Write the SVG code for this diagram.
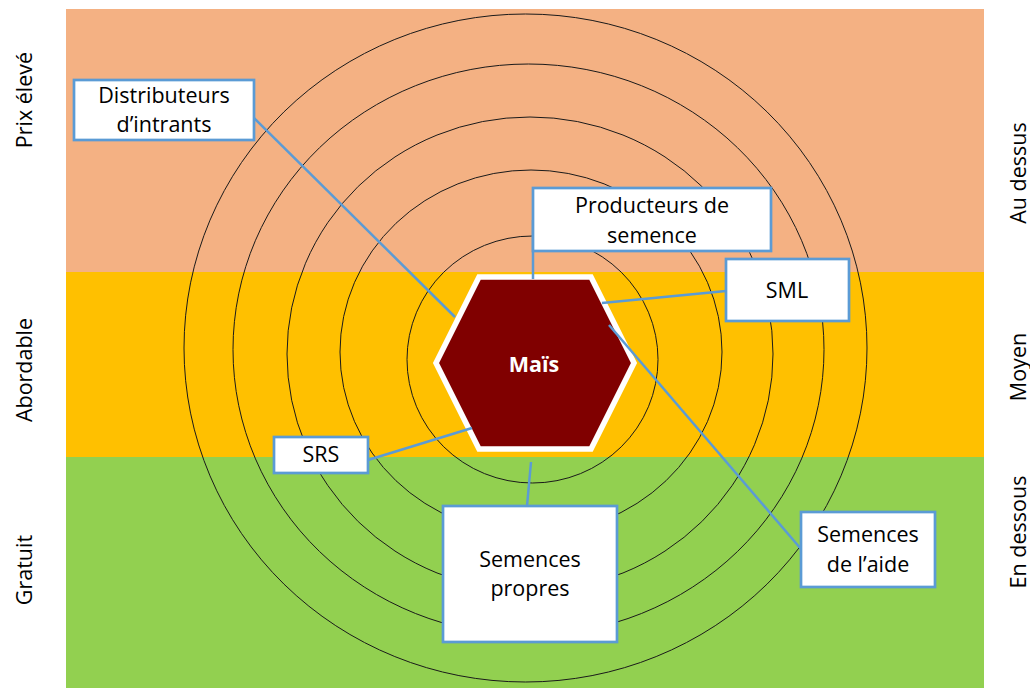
<svg xmlns="http://www.w3.org/2000/svg" width="1030" height="688" viewBox="0 0 1030 688">
<style>
  .ring { fill: none; stroke: #1a1a1a; stroke-width: 1; }
  .box { fill: #ffffff; stroke: #5B9BD5; stroke-width: 2.7; }
  .conn { stroke: #5B9BD5; stroke-width: 2.5; fill: none; }
  .lbl { font-family: "Open Sans", "Liberation Sans", sans-serif; font-size: 21.5px; fill: #000000; text-anchor: middle; }
  .side { font-family: "Open Sans", "Liberation Sans", sans-serif; font-size: 21.5px; fill: #000000; text-anchor: middle; }
  .core { font-family: "Open Sans", "Liberation Sans", sans-serif; font-size: 21.5px; font-weight: bold; fill: #ffffff; text-anchor: middle; }
</style>
<rect x="0" y="0" width="1030" height="688" fill="#ffffff"/>
<g id="bands">
  <rect x="66" y="9" width="918" height="263" fill="#F4B183"/>
  <rect x="66" y="272" width="918" height="185" fill="#FFC000"/>
  <rect x="66" y="457" width="918" height="231" fill="#92D050"/>
</g>
<g id="rings">
  <ellipse class="ring" cx="525.5" cy="348" rx="341.5" ry="334"/>
  <ellipse class="ring" cx="528.5" cy="349.6" rx="295.5" ry="285.6"/>
  <ellipse class="ring" cx="530" cy="354" rx="243" ry="237"/>
  <ellipse class="ring" cx="531" cy="352" rx="191" ry="182"/>
  <ellipse class="ring" cx="532.5" cy="359.5" rx="125.5" ry="123.5"/>
</g>
<g id="side-labels">
  <text class="side" transform="translate(32,100) rotate(-90)">Prix élevé</text>
  <text class="side" transform="translate(32,370) rotate(-90)">Abordable</text>
  <text class="side" transform="translate(32,570) rotate(-90)">Gratuit</text>
  <text class="side" transform="translate(1026,173) rotate(-90)">Au dessus</text>
  <text class="side" transform="translate(1026,367) rotate(-90)">Moyen</text>
  <text class="side" transform="translate(1026,532) rotate(-90)">En dessous</text>
</g>
<g id="node-mais">
  <polygon points="436,363 479,277 591,277 634,363 591,449 479,449" fill="#800000" stroke="#ffffff" stroke-width="5.5" stroke-linejoin="miter"/>
  <text class="core" x="534" y="372">Maïs</text>
</g>
<g id="connectors">
  <line class="conn" x1="253" y1="117" x2="455" y2="317"/>
  <line class="conn" x1="533" y1="220" x2="533" y2="279"/>
  <line class="conn" x1="726" y1="291" x2="602" y2="303"/>
  <line class="conn" x1="368" y1="460" x2="472" y2="428"/>
  <line class="conn" x1="527" y1="506" x2="531" y2="462"/>
  <line class="conn" x1="801" y1="549" x2="609" y2="325"/>
</g>
<g id="node-distributeurs">
  <rect class="box" x="74" y="80" width="180" height="60"/>
  <text class="lbl" x="164" y="103">Distributeurs</text>
  <text class="lbl" x="164" y="132">d’intrants</text>
</g>
<g id="node-producteurs">
  <rect class="box" x="533" y="188" width="238" height="63"/>
  <text class="lbl" x="652" y="213">Producteurs de</text>
  <text class="lbl" x="652" y="243">semence</text>
</g>
<g id="node-sml">
  <rect class="box" x="726" y="259" width="123" height="62"/>
  <text class="lbl" x="787" y="298">SML</text>
</g>
<g id="node-srs">
  <rect class="box" x="274" y="437" width="94" height="36"/>
  <text class="lbl" x="321" y="462">SRS</text>
</g>
<g id="node-semences-propres">
  <rect class="box" x="443" y="506" width="174" height="136"/>
  <text class="lbl" x="530" y="567">Semences</text>
  <text class="lbl" x="530" y="596">propres</text>
</g>
<g id="node-semences-aide">
  <rect class="box" x="801" y="512" width="134" height="75"/>
  <text class="lbl" x="868" y="542">Semences</text>
  <text class="lbl" x="868" y="572">de l’aide</text>
</g>
</svg>
